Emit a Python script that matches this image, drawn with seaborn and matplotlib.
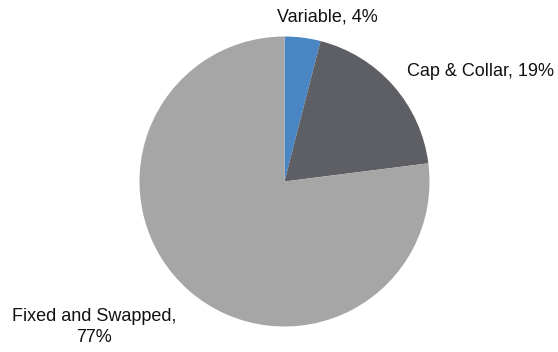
import matplotlib
matplotlib.use("Agg")
import matplotlib.pyplot as plt
import seaborn as sns

categories = ["Variable", "Cap & Collar", "Fixed and Swapped"]
shares = [4, 19, 77]
label_texts = ["Variable, 4%", "Cap & Collar, 19%", "Fixed and Swapped,\n77%"]
colors = ["#4A86C4", "#5E5F64", "#A6A6A6"]

sns.set_theme(style="white")
plt.rcParams["font.family"] = ["Liberation Sans", "DejaVu Sans"]

W, H, DPI = 558, 352, 100
fig = plt.figure(figsize=(W / DPI, H / DPI), dpi=DPI)
ax = fig.add_axes([0, 0, 1, 1])

# pie centre and radius in pixels; axes limits map one data unit to r pixels
cx, cy, r = 284.5, 181.5, 145
ax.pie(shares, colors=colors, startangle=90, counterclock=False,
       radius=1, wedgeprops=dict(linewidth=0))
ax.set_xlim(-cx / r, (W - cx) / r)
ax.set_ylim(-(H - cy) / r, cy / r)
ax.set_aspect("equal")
ax.axis("off")

# label anchor (centre x, first baseline y) in pixels from the top-left
label_px = [(327, 22), (480, 76.5), (94, 321)]
line_step = 20.5
for txt, (px, py) in zip(label_texts, label_px):
    for i, line in enumerate(txt.split("\n")):
        ax.text((px - cx) / r, (cy - py - i * line_step) / r, line,
                ha="center", va="baseline", fontsize=13, color="#111111")

fig.savefig("out.png", dpi=DPI)
